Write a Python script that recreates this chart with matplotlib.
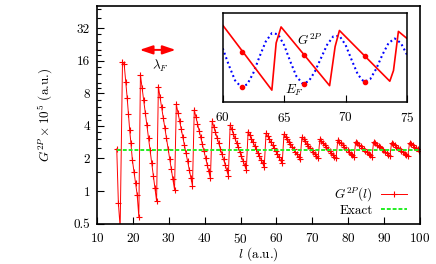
import numpy as np
import matplotlib
matplotlib.use('Agg')
import matplotlib.pyplot as plt
from matplotlib.ticker import FixedLocator, FixedFormatter, NullFormatter, NullLocator

plt.rcParams['font.family'] = 'serif'
plt.rcParams['font.serif'] = ['cmr10']
plt.rcParams['mathtext.fontset'] = 'cm'
plt.rcParams['axes.formatter.use_mathtext'] = True

# ---------------- data ----------------
lead_l = [15.5, 15.95, 16.45]
lead_g = [2.45, 0.78, 0.46]

tooth0_l = [17.1, 17.55, 18.0, 18.4, 18.75, 19.1, 19.45, 19.85, 20.3, 20.75, 21.2, 21.65]
tooth0_g = [15.5, 15.0, 10.2, 7.3, 5.2, 3.67, 2.76, 1.94, 1.51, 1.18, 0.92, 0.58]

l_step = 0.45
tooth_start = [22.1, 27.1, 32.1, 37.1, 42.1, 47.1, 52.1, 57.1, 62.1, 67.1,
               72.1, 77.1, 82.1, 87.1, 92.1, 97.1]
tooth_g = [
    [11.8, 9.03, 6.91, 5.28, 4.04, 3.09, 2.37, 1.81, 1.38, 1.06, 0.81],
    [9.2, 7.39, 5.94, 4.77, 3.83, 3.08, 2.47, 1.99, 1.60, 1.28, 1.03],
    [6.3, 5.30, 4.46, 3.75, 3.16, 2.66, 2.24, 1.88, 1.58, 1.33, 1.12],
    [5.6, 4.84, 4.19, 3.62, 3.13, 2.71, 2.34, 2.03, 1.75, 1.52, 1.31],
    [4.4, 3.92, 3.50, 3.11, 2.78, 2.47, 2.20, 1.96, 1.75, 1.56, 1.39],
    [4.08, 3.71, 3.37, 3.06, 2.78, 2.53, 2.30, 2.09, 1.90, 1.73, 1.57],
    [3.54, 3.29, 3.05, 2.83, 2.63, 2.44, 2.26, 2.10, 1.95, 1.81, 1.68],
    [3.42, 3.21, 3.01, 2.82, 2.65, 2.48, 2.33, 2.18, 2.05, 1.92, 1.80],
    [3.35, 3.18, 3.01, 2.86, 2.71, 2.57, 2.44, 2.31, 2.19, 2.08, 1.97],
    [3.14, 3.00, 2.87, 2.74, 2.62, 2.51, 2.40, 2.29, 2.19, 2.09, 2.00],
    [3.01, 2.89, 2.77, 2.66, 2.56, 2.45, 2.36, 2.26, 2.17, 2.08, 2.00],
    [2.96, 2.85, 2.75, 2.65, 2.56, 2.46, 2.38, 2.29, 2.21, 2.13, 2.05],
    [2.86, 2.77, 2.68, 2.60, 2.52, 2.44, 2.36, 2.29, 2.22, 2.15, 2.08],
    [2.86, 2.77, 2.69, 2.61, 2.53, 2.45, 2.38, 2.31, 2.24, 2.17, 2.10],
    [2.80, 2.72, 2.64, 2.57, 2.49, 2.42, 2.36, 2.29, 2.22, 2.16, 2.10],
    [2.80, 2.72, 2.64, 2.57, 2.49, 2.42, 2.36],
]

exact_l = [15.5, 100.0]
exact_g = 2.38

y_major = [0.5, 1, 2, 4, 8, 16, 32]
y_major_labels = ['0.5', '1', '2', '4', '8', '16', '32']
y_minor = [1.5, 2.5, 3, 3.5, 4.5, 5, 6, 7, 9, 10, 12, 14, 18, 20, 24, 28, 40, 48]
x_major = [10, 20, 30, 40, 50, 60, 70, 80, 90, 100]

lambda_l = [21.9, 31.9]
lambda_g = 20.1

# inset data
ins_red_l = [60.0, 64.0, 64.35, 64.75, 68.7, 69.15, 69.5, 73.6, 73.9, 74.3, 75.0]
ins_red_g = [0.86, 0.13, 0.66, 0.84, 0.18, 0.62, 0.80, 0.23, 0.35, 0.79, 0.71]
ins_blue_l = [60.0, 60.5, 61.0, 61.5, 62.0, 62.5, 63.0, 63.5, 64.0, 64.5, 65.0,
              65.5, 66.0, 66.5, 67.0, 67.5, 68.0, 68.5, 69.0, 69.5, 70.0, 70.5,
              71.0, 71.5, 72.0, 72.5, 73.0, 73.5, 74.0, 74.5, 75.0]
ins_blue_g = [0.60, 0.41, 0.24, 0.165, 0.195, 0.325, 0.507, 0.675, 0.77, 0.758, 0.635,
              0.452, 0.285, 0.203, 0.229, 0.338, 0.49, 0.64, 0.734, 0.74, 0.638, 0.467,
              0.305, 0.223, 0.253, 0.371, 0.528, 0.659, 0.71, 0.659, 0.528]
ins_dot_l = [61.6, 66.6, 71.6]
ins_dot_red_g = [0.56, 0.53, 0.51]
ins_dot_blue_g = [0.165, 0.20, 0.222]
ins_xticks = [60, 65, 70, 75]

# ---------------- assemble series ----------------
l_all = list(lead_l) + list(tooth0_l)
g_all = list(lead_g) + list(tooth0_g)
for s, vals in zip(tooth_start, tooth_g):
    l_all += [s + l_step * j for j in range(len(vals))]
    g_all += vals

FS = 9.5
fig = plt.figure(figsize=(4.36, 2.64), dpi=100)
ax = fig.add_axes([0.2225, 0.1527, 0.7408, 0.8243])

ax.plot(l_all, g_all, color='red', lw=0.7, marker='+', ms=4, mew=0.8,
        label=r'$G^{2P}(l)$')
ax.plot(exact_l, [exact_g, exact_g], color='#22ee22', lw=1.4, ls=(0, (2, 1)),
        label='Exact')

ax.set_yscale('log', base=2)
ax.set_ylim(0.5, 51)
ax.set_xlim(10, 100)
ax.yaxis.set_major_locator(FixedLocator(y_major))
ax.yaxis.set_major_formatter(FixedFormatter(y_major_labels))
ax.yaxis.set_minor_locator(FixedLocator(y_minor))
ax.yaxis.set_minor_formatter(NullFormatter())
ax.xaxis.set_major_locator(FixedLocator(x_major))
ax.xaxis.set_minor_locator(NullLocator())
ax.tick_params(axis='both', which='major', direction='in', length=5, width=0.8,
               labelsize=FS, top=False, right=False)
ax.tick_params(axis='y', which='minor', direction='in', length=3, width=0.8, right=False)
ax.tick_params(axis='y', which='major', pad=5)
ax.tick_params(axis='x', which='major', pad=6)
for sp in ax.spines.values():
    sp.set_linewidth(1.2)

ax.set_ylabel(r'$G^{2P}\times 10^5$ (a.u.)', fontsize=FS)
ax.yaxis.set_label_coords(-0.132, 0.5)
ax.set_xlabel(r'$l$ (a.u.)', fontsize=FS)
ax.xaxis.set_label_coords(0.5, -0.10)

ax.annotate('', xy=(lambda_l[1], lambda_g), xytext=(lambda_l[0], lambda_g),
            arrowprops=dict(arrowstyle='<|-|>,head_length=0.65,head_width=0.22',
                            color='red', lw=1.4, shrinkA=0, shrinkB=0,
                            mutation_scale=12))
ax.text(27.5, 14.3, r'$\lambda_F$', ha='center', va='center', fontsize=FS)

ax.legend(loc='lower right', bbox_to_anchor=(407 / 436, 0.178),
          bbox_transform=fig.transFigure, frameon=False, markerfirst=False,
          borderpad=0, borderaxespad=0, handlelength=2.0, handletextpad=0.6,
          labelspacing=0.05, fontsize=FS, numpoints=1)

# ---------------- inset ----------------
axi = fig.add_axes([0.5108, 0.6148, 0.4227, 0.3371])
axi.plot(ins_blue_l, ins_blue_g, color='blue', lw=1.5, ls=(0, (0.9, 1.4)))
axi.plot(ins_red_l, ins_red_g, color='red', lw=1.2)
axi.plot(ins_dot_l, ins_dot_red_g, 'o', color='red', ms=3)
axi.plot(ins_dot_l, ins_dot_blue_g, 'o', color='red', ms=3)
axi.set_xlim(60, 75)
axi.set_ylim(0, 1)
axi.set_xticks(ins_xticks)
axi.yaxis.set_major_locator(NullLocator())
axi.tick_params(axis='x', direction='in', length=5, width=0.8, labelsize=FS, pad=7)
for sp in axi.spines.values():
    sp.set_linewidth(1.1)
axi.text(66.05, 0.69, r'$G^{2P}$', ha='left', va='center', fontsize=FS)
axi.text(65.07, 0.13, r'$E_F$', ha='left', va='center', fontsize=FS)

fig.savefig('out.png', dpi=100)
